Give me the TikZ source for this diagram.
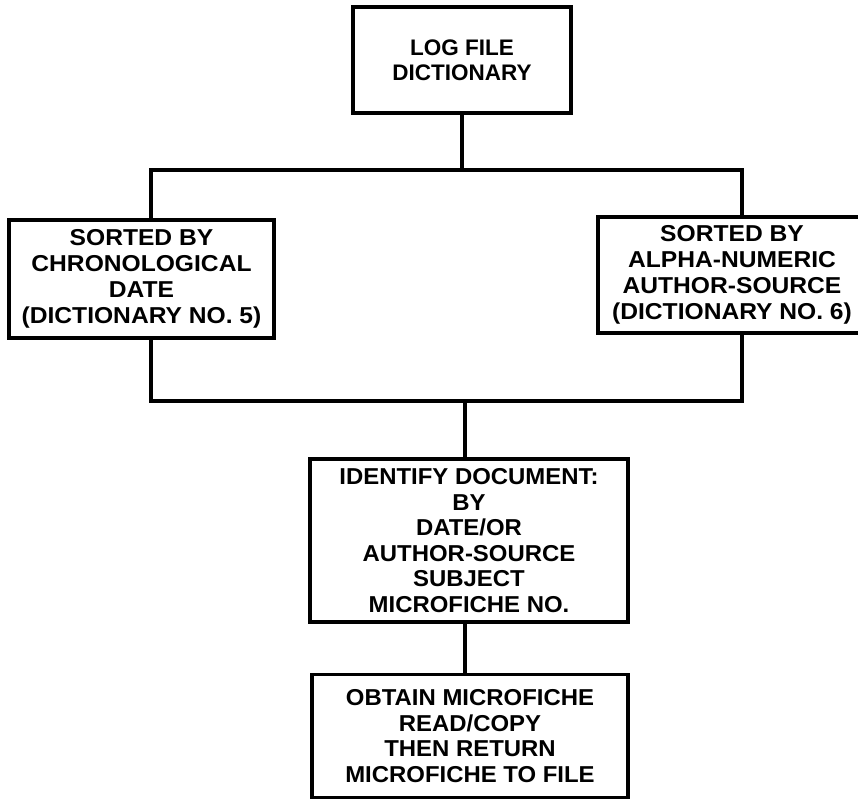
\documentclass[tikz,border=0pt]{standalone}
\usepackage{fontspec}
\setmainfont{Liberation Sans}
\newfontfamily\sortfont[FakeStretch=1.07]{Liberation Sans}
\newfontfamily\lowfont[FakeStretch=1.04]{Liberation Sans}
\usepackage{tikz}
\usetikzlibrary{
    calc,
    positioning
}

\begin{document}
\begin{tikzpicture}[x=1pt, y=-1pt, line width=3.2pt,
    box/.style={draw, align=center, inner sep=0pt, font=\bfseries\fontsize{22.5}{25}\selectfont},
    sortbox/.style={box, font=\sortfont\bfseries\fontsize{23}{26}\selectfont},
    lowbox/.style={box, font=\lowfont\bfseries\fontsize{23}{25.6}\selectfont}]
                        \useasboundingbox (0, 0) rectangle (858, 800);
                        \node[box, minimum width=218, minimum height=106] (log) at (462, 60) {LOG FILE\\DICTIONARY};
                        \node[sortbox, minimum width=265, minimum height=118] (chrono) at (141.5, 279) {SORTED BY\\CHRONOLOGICAL\\DATE\\(DICTIONARY NO. 5)};
                        \node[sortbox, minimum width=268, minimum height=116] (alpha) at (732, 275) {SORTED BY\\ALPHA-NUMERIC\\AUTHOR-SOURCE\\(DICTIONARY NO. 6)};
                        \node[lowbox, minimum width=318, minimum height=163] (ident) at (469, 540.5) {IDENTIFY DOCUMENT:\\BY\\DATE/OR\\AUTHOR-SOURCE\\SUBJECT\\MICROFICHE NO.};
                        \node[lowbox, minimum width=316, minimum height=123] (obtain) at (470, 736) {OBTAIN MICROFICHE\\READ/COPY\\THEN RETURN\\MICROFICHE TO FILE};
                        \coordinate (lt) at (151, 170);
                        \coordinate (rt) at (742, 170);
                        \coordinate (lb) at (151, 401);
                        \coordinate (rb) at (742, 401);
                        \coordinate (mb) at (465, 401);
                        \draw (log.south) -- (log.south |- lt);
                        \draw (chrono.north -| lt) -- (lt) -- (rt) -- (alpha.north -| rt);
                        \draw (chrono.south -| lb) -- (lb) -- (rb) -- (alpha.south -| rb);
                        \draw (mb) -- (ident.north -| mb);
                        \draw (ident.south -| mb) -- (obtain.north -| mb);
                    \end{tikzpicture}
\end{document}
